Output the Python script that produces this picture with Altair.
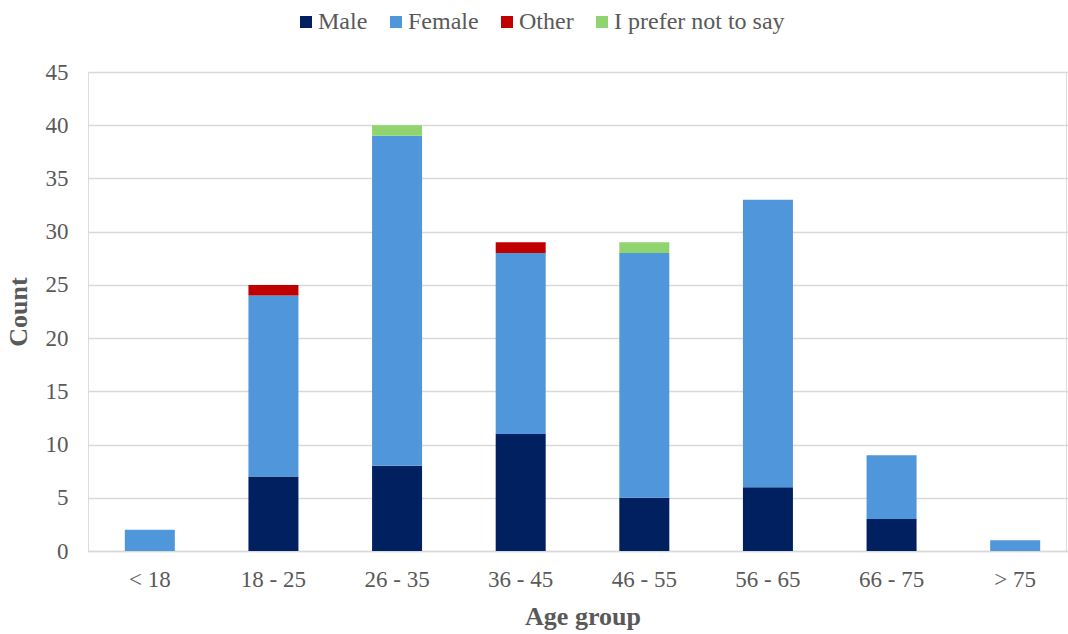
import altair as alt
import pandas as pd

age_groups = ["< 18", "18 - 25", "26 - 35", "36 - 45", "46 - 55", "56 - 65", "66 - 75", "> 75"]
male = [0, 7, 8, 11, 5, 6, 3, 0]
female = [2, 17, 31, 17, 23, 27, 6, 1]
other = [0, 1, 0, 1, 0, 0, 0, 0]
prefer_not = [0, 0, 1, 0, 1, 0, 0, 0]

genders = ["Male", "Female", "Other", "I prefer not to say"]
colors = ["#002060", "#4F96DA", "#C00000", "#8FD46E"]

rows = []
for i, g in enumerate(age_groups):
    for k, (name, vals) in enumerate(zip(genders, [male, female, other, prefer_not])):
        if vals[i] > 0:
            rows.append({"age": g, "gender": name, "count": vals[i], "order": k})
df = pd.DataFrame(rows)

FONT = "'Times New Roman', 'Liberation Serif', serif"
GRAY = "#595959"

chart = (
    alt.Chart(df)
    .mark_bar(size=50)
    .encode(
        x=alt.X(
            "age:N",
            sort=age_groups,
            scale=alt.Scale(domain=age_groups, paddingInner=0, paddingOuter=0, range=[0, 989]),
            axis=alt.Axis(
                title="Age group",
                labelAngle=0,
                labelFont=FONT,
                labelFontSize=23,
                labelColor=GRAY,
                labelPadding=17,
                titleFont=FONT,
                titleFontSize=26,
                titleFontWeight="bold",
                titleColor=GRAY,
                titlePadding=12,
                ticks=False,
                domainColor="#D9D9D9",
                domainWidth=1.5,
                grid=False,
            ),
        ),
        y=alt.Y(
            "count:Q",
            stack="zero",
            scale=alt.Scale(domain=[0, 45], nice=False),
            axis=alt.Axis(
                title="Count",
                values=list(range(0, 50, 5)),
                labelFont=FONT,
                labelFontSize=23,
                labelColor=GRAY,
                labelPadding=20,
                titleFont=FONT,
                titleFontSize=26,
                titleFontWeight="bold",
                titleColor=GRAY,
                titlePadding=14,
                ticks=False,
                domain=False,
                gridColor="#D9D9D9",
                gridWidth=1.5,
            ),
        ),
        color=alt.Color(
            "gender:N",
            scale=alt.Scale(domain=genders, range=colors),
            legend=alt.Legend(
                title=None,
                orient="none",
                legendX=206,
                legendY=-62,
                direction="horizontal",
                symbolType="square",
                symbolSize=144,
                symbolStrokeWidth=0,
                labelFont=FONT,
                labelFontSize=24,
                labelColor=GRAY,
                labelLimit=400,
                labelOffset=0,
                columnPadding=16,
            ),
        ),
        order=alt.Order("order:Q", sort="ascending"),
    )
    .properties(
        width=978,
        height=479,
        padding={"left": 88, "top": 72, "right": 2, "bottom": 83},
        autosize=alt.AutoSizeParams(type="none"),
    )
    .configure_view(stroke=None)
    .configure(background="white", font=FONT)
)

chart.save("out.html", embed_options={"renderer": "svg", "actions": False})
